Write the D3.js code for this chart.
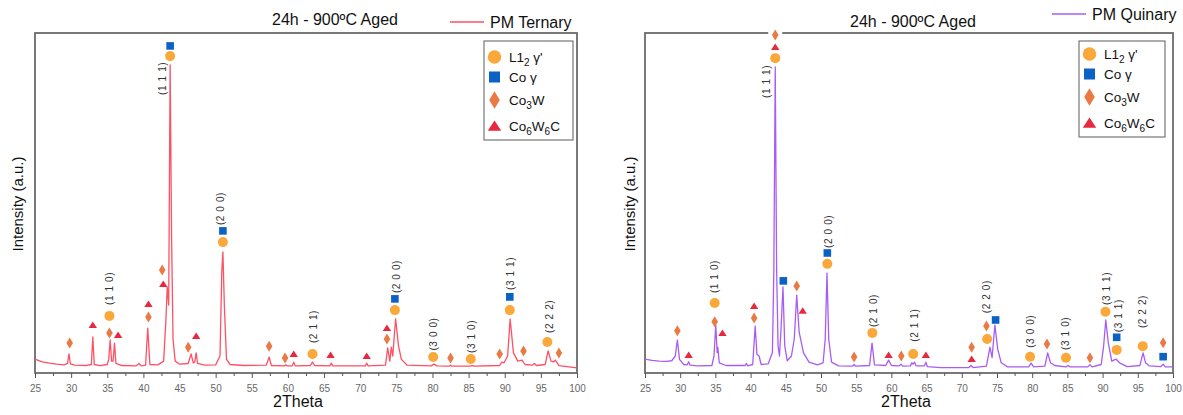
<!DOCTYPE html>
<meta charset="utf-8">
<style>
body { margin: 0; background: #fff; }
text { font-family: "Liberation Sans", Arial, sans-serif; }
</style>
<svg width="1183" height="415"></svg>
<script src="https://d3js.org/d3.v7.min.js"></script>
<script>

// XRD traces: [2theta, intensity a.u. (0 = axis, 100 = frame top)]
var ternaryTrace = [[25,4.1],[26,3.3],[27,2.9],[28,2.6],[29,2.4],[29.5,2.8],[29.7,5.6],[29.9,2.7],[30.5,2.3],[32,2.2],[32.8,2.5],[33.0,10.6],[33.2,2.5],[34,2.2],[35.0,2.5],[35.2,4],[35.4,9.7],[35.6,3.5],[35.8,3.5],[36.0,8.8],[36.2,2.8],[37,2.2],[39,2.1],[39.4,2.8],[39.7,2.1],[40.3,2.3],[40.6,13.2],[40.9,2.5],[42,2.4],[42.8,3.5],[43.1,15],[43.3,25.3],[43.5,20],[43.7,90.6],[43.9,40],[44.1,10],[44.4,3.5],[45,2.6],[46.2,2.8],[46.6,5.6],[46.9,3],[47.1,3.2],[47.3,5.9],[47.5,2.8],[48.5,2.3],[50,2.4],[50.6,5],[50.85,30],[51.0,35.6],[51.2,20],[51.5,4],[52,2.5],[54,2.2],[57,2.3],[57.4,4.7],[57.7,2.2],[59.5,2.1],[59.7,2.4],[59.9,2.1],[60.6,2.1],[60.8,3.2],[61.0,2.1],[63.1,2.2],[63.4,3.2],[63.7,2.2],[65.8,2.1],[66.0,2.9],[66.2,2.1],[70.7,2.1],[70.9,2.9],[71.1,2.1],[73.5,2.3],[73.8,7.4],[74.1,3.5],[74.3,7.6],[74.5,5],[74.9,15.9],[75.3,8],[75.7,4],[76.5,2.3],[79.8,2.1],[80.2,2.6],[80.6,2.1],[82.3,2.0],[82.5,2.3],[82.7,2.0],[85.2,2.0],[85.5,2.2],[85.8,2.0],[89.3,2.2],[89.6,3.2],[89.9,3.0],[90.4,5],[90.75,15.9],[91.2,6],[91.8,3.5],[92.4,3.8],[92.8,2.5],[93.8,2.3],[94.1,2.8],[94.4,2.2],[95.6,2.5],[96.0,6.5],[96.4,3.5],[96.8,3.3],[97.0,3.8],[97.5,2.2],[100,1.5]];

var quinaryTrace = [[25,4.1],[26,3.7],[27,3.5],[28,3.4],[28.8,3.6],[29.3,5],[29.6,9.7],[29.9,4],[30.5,2.5],[31.0,2.4],[31.2,3.3],[31.4,2.3],[32.5,2.1],[34.5,2.2],[34.8,5],[35.05,14.1],[35.25,6],[35.35,7.5],[35.55,3],[36.5,2.2],[39.2,2.2],[39.4,2.8],[39.6,2.1],[40.3,2.5],[40.65,13.8],[40.9,5.5],[41.2,5],[41.5,2.5],[42.5,2.7],[43.1,6],[43.3,30],[43.5,90],[43.7,30],[43.9,8],[44.1,5],[44.3,12],[44.6,25.3],[44.85,8],[45.2,3.6],[45.8,5],[46.2,10],[46.55,22.9],[46.9,12],[47.5,6],[48.3,3.2],[49.5,2.4],[50.3,3],[50.6,10],[50.85,29.4],[51.1,10],[51.5,3.2],[52.5,2.1],[54.5,2.0],[54.7,2.5],[54.9,2.0],[56.9,2.2],[57.25,8.8],[57.6,2.4],[59.2,2.2],[59.6,3.8],[60,2.2],[61.1,2.1],[61.35,2.6],[61.6,2.0],[62.7,2.1],[62.9,3.0],[63.1,2.6],[63.3,3.2],[63.5,2.1],[64.7,2.1],[64.9,3.2],[65.1,1.9],[67,1.6],[71.0,1.6],[71.3,2.2],[71.6,1.6],[73.5,2.0],[74.0,7.6],[74.3,4.5],[74.7,14.1],[75.1,7],[75.6,3],[76.5,1.8],[79.5,1.8],[79.85,2.9],[80.2,1.8],[81.8,2.0],[82.2,5.9],[82.6,3],[83.2,2.2],[84.8,1.8],[85.1,2.2],[85.4,1.8],[87.9,1.8],[88.2,2.4],[88.5,1.8],[89.8,2.5],[90.15,8],[90.45,15.6],[90.8,9],[91.3,3.5],[91.9,4.1],[92.4,3],[93.5,1.9],[95.3,2.2],[95.75,5.9],[96.1,3],[96.6,2.1],[98.3,1.9],[98.6,2.6],[98.9,1.8],[100,1.8]];

// phase markers [2theta, intensity]
var ternaryGammaPrime = [[43.7,93.2],[51.0,38.5],[35.3,16.8],[63.4,5.6],[74.8,18.5],[80.1,4.7],[85.3,4.1],[90.7,18.5],[95.9,9.1]];
var ternaryGamma = [[43.7,96.2],[51.0,41.8],[74.8,21.8],[90.7,22.4]];
var ternaryCo3W = [[29.8,8.8],[35.3,11.8],[40.7,16.5],[42.6,30.3],[46.2,7.6],[57.4,7.9],[59.6,4.4],[73.7,10.0],[82.5,4.4],[89.3,5.6],[92.6,6.5],[97.5,5.9]];
var ternaryCo6W6C = [[33.0,14.1],[36.5,11.2],[40.7,20.3],[42.75,26.2],[47.3,10.9],[60.8,5.6],[65.9,5.3],[70.9,5.0],[73.7,13.2]];

var quinaryGammaPrime = [[43.5,92.6],[34.9,20.6],[50.9,32.1],[57.3,11.8],[63.1,5.6],[73.6,10.0],[79.7,4.8],[84.8,4.5],[90.4,18.0],[92.0,6.8],[95.7,7.9]];
var quinaryGamma = [[44.65,27.1],[50.9,35.3],[74.8,15.6],[92.0,10.5],[98.6,4.8]];
var quinaryCo3W = [[43.5,99.4],[29.6,12.4],[34.9,15.1],[40.5,16.2],[46.55,25.6],[54.7,4.7],[61.4,5.0],[71.4,7.6],[73.5,13.8],[82.1,8.5],[88.2,4.5],[98.6,8.9]];
var quinaryCo6W6C = [[43.5,95.9],[31.2,5.3],[36.0,11.8],[40.5,19.7],[47.4,18.3],[59.6,5.3],[64.9,5.3],[71.4,4.1]];

// hkl labels [text, 2theta, intensity at label start]
var ternaryHkl = [["(1 1 1)",42.6,81.8],["(2 0 0)",50.6,43.5],["(1 1 0)",35.3,20],["(2 1 1)",63.6,8.8],["(2 0 0)",75.05,23.5],["(3 0 0)",80.2,6.6],["(3 1 0)",85.4,5.9],["(3 1 1)",90.8,24.4],["(2 2 2)",96.2,11.8]];
var quinaryHkl = [["(1 1 1)",42.3,80.9],["(1 1 0)",34.9,23.5],["(2 0 0)",51.0,36.8],["(2 1 0)",57.4,13.5],["(2 1 1)",63.35,9.2],["(2 2 0)",73.5,17.6],["(3 0 0)",79.7,7.4],["(3 1 0)",84.8,6.8],["(3 1 1)",90.6,20],["(3 1 1)",92.2,12],["(2 2 2)",95.7,13.2]];

var xTicks = [25,30,35,40,45,50,55,60,65,70,75,80,85,90,95,100];
var minorTicks = [27.5,32.5,37.5,42.5,47.5,52.5,57.5,62.5,67.5,72.5,77.5,82.5,87.5,92.5,97.5];

var colors = {circle: "#fba83a", square: "#0b62c4", diamond: "#ea7a44", triangle: "#e8283f"};

var svg = d3.select("svg");

function shapePath(type, cx, cy, s) {
  var p = d3.path();
  if (type === "circle") {
    p.arc(cx, cy, 5 * s, 0, 2 * Math.PI);
  } else if (type === "square") {
    p.rect(cx - 3.8 * s, cy - 3.8 * s, 7.6 * s, 7.6 * s);
  } else if (type === "diamond") {
    p.moveTo(cx, cy - 5.5 * s); p.lineTo(cx + 3.3 * s, cy); p.lineTo(cx, cy + 5.5 * s); p.lineTo(cx - 3.3 * s, cy); p.closePath();
  } else {
    p.moveTo(cx, cy - 3.5 * s); p.lineTo(cx + 4.2 * s, cy + 3 * s); p.lineTo(cx - 4.2 * s, cy + 3 * s); p.closePath();
  }
  return p.toString();
}

function panel(o) {
  var x = d3.scaleLinear().domain([25, 100]).range([o.left, o.right]),
      y = d3.scaleLinear().domain([0, 100]).range([o.bottom, o.top]);
  var g = svg.append("g");

  // frame
  g.append("rect")
      .attr("x", o.left).attr("y", o.top)
      .attr("width", o.right - o.left).attr("height", o.bottom - o.top)
      .attr("fill", "none").attr("stroke", "#6b6b6b").attr("stroke-width", 1.8);

  // x axis
  var ax = g.append("g").attr("transform", "translate(0," + o.bottom + ")")
      .call(d3.axisBottom(x).tickValues(xTicks).tickSize(5).tickSizeOuter(0).tickPadding(7));
  ax.select(".domain").remove();
  ax.selectAll("line").attr("stroke", "#555");
  ax.selectAll("text").attr("font-size", 10).attr("fill", "#666")
      .style("font-family", "'Liberation Sans', Arial, sans-serif");
  var mx = g.append("g").attr("transform", "translate(0," + o.bottom + ")")
      .call(d3.axisBottom(x).tickValues(minorTicks).tickSize(3).tickFormat(""));
  mx.select(".domain").remove();
  mx.selectAll("line").attr("stroke", "#555");

  g.append("text").attr("x", o.xLabelX).attr("y", 407)
      .attr("text-anchor", "middle").attr("font-size", 16).attr("fill", "#111").text("2Theta");
  g.append("text").attr("transform", "translate(" + o.yLabelX + ",204) rotate(-90)")
      .attr("text-anchor", "middle").attr("font-size", 15).attr("fill", "#111").text("Intensity (a.u.)");

  // trace
  g.append("path").datum(o.trace)
      .attr("fill", "none").attr("stroke", o.color).attr("stroke-width", 1.3)
      .attr("stroke-linejoin", "round")
      .attr("d", d3.line().x(function(d) { return x(d[0]); }).y(function(d) { return y(d[1]); }));

  // hkl labels
  g.selectAll(".hkl").data(o.hkl).enter().append("text")
      .attr("transform", function(d) { return "translate(" + x(d[1]) + "," + y(d[2]) + ") rotate(-90)"; })
      .attr("dy", "0.35em").attr("font-size", 10).attr("letter-spacing", 0.6).attr("fill", "#333")
      .text(function(d) { return d[0]; });

  // markers
  o.markers.forEach(function(m) {
    m[1].forEach(function(d) {
      if (y(d[1]) < o.top + 4) {
        g.append("rect").attr("x", x(d[0]) - 7).attr("y", o.top - 2).attr("width", 14).attr("height", 4).attr("fill", "#fff");
      }
      g.append("path").attr("d", shapePath(m[0], x(d[0]), y(d[1]), 1)).attr("fill", colors[m[0]]);
    });
  });

  // titles
  g.append("text").attr("x", o.titleX).attr("y", o.titleY).attr("font-size", 16).attr("fill", "#111").text("24h - 900ºC Aged");
  g.append("line").attr("x1", o.lineX).attr("x2", o.lineX + 34).attr("y1", o.lineY).attr("y2", o.lineY)
      .attr("stroke", o.color).attr("stroke-width", 1.3);
  g.append("text").attr("x", o.lineX + 40).attr("y", o.lineY + 6).attr("font-size", 16).attr("fill", "#111").text(o.name);

  // phase legend
  var lg = g.append("g");
  lg.append("rect").attr("x", o.legX).attr("y", 41).attr("width", o.legW).attr("height", o.legH)
      .attr("fill", "#fff").attr("stroke", "#777").attr("stroke-width", 1.2);
  var items = [
    {type: "circle", s: 1.35, y: o.legY[0], parts: [["L1", 0], ["2", 1], [" γ'", 0]]},
    {type: "square", s: 1.45, y: o.legY[1], parts: [["Co γ", 0]]},
    {type: "diamond", s: 1.6, y: o.legY[2], parts: [["Co", 0], ["3", 1], ["W", 0]]},
    {type: "triangle", s: 1.6, y: o.legY[3], parts: [["Co", 0], ["6", 1], ["W", 0], ["6", 1], ["C", 0]]}
  ];
  items.forEach(function(it) {
    lg.append("path").attr("d", shapePath(it.type, o.legX + 10.5, it.y, it.s)).attr("fill", colors[it.type]);
    var t = lg.append("text").attr("x", o.legX + 25).attr("y", it.y + 5).attr("font-size", 13.5).attr("fill", "#111");
    it.parts.forEach(function(p) {
      var ts = t.append("tspan").text(p[0]);
      if (p[1]) ts.attr("font-size", 10).attr("dy", 4);
      else if (t.selectAll("tspan").size() > 1) ts.attr("dy", -4);
    });
  });
}

panel({
  left: 35, right: 577, top: 33, bottom: 373,
  trace: ternaryTrace, color: "#ff5064", name: "PM Ternary",
  hkl: ternaryHkl,
  markers: [["diamond", ternaryCo3W], ["triangle", ternaryCo6W6C], ["circle", ternaryGammaPrime], ["square", ternaryGamma]],
  xLabelX: 298, yLabelX: 23,
  titleX: 272, titleY: 25, lineX: 450, lineY: 22,
  legX: 484, legW: 89, legH: 99, legY: [57, 77, 100, 126]
});

panel({
  left: 645, right: 1173, top: 33, bottom: 373,
  trace: quinaryTrace, color: "#a95cf4", name: "PM Quinary",
  hkl: quinaryHkl,
  markers: [["diamond", quinaryCo3W], ["triangle", quinaryCo6W6C], ["circle", quinaryGammaPrime], ["square", quinaryGamma]],
  xLabelX: 906, yLabelX: 635,
  titleX: 850, titleY: 27, lineX: 1052, lineY: 14,
  legX: 1079, legW: 86, legH: 96, legY: [54, 74, 97, 123]
});

</script>
